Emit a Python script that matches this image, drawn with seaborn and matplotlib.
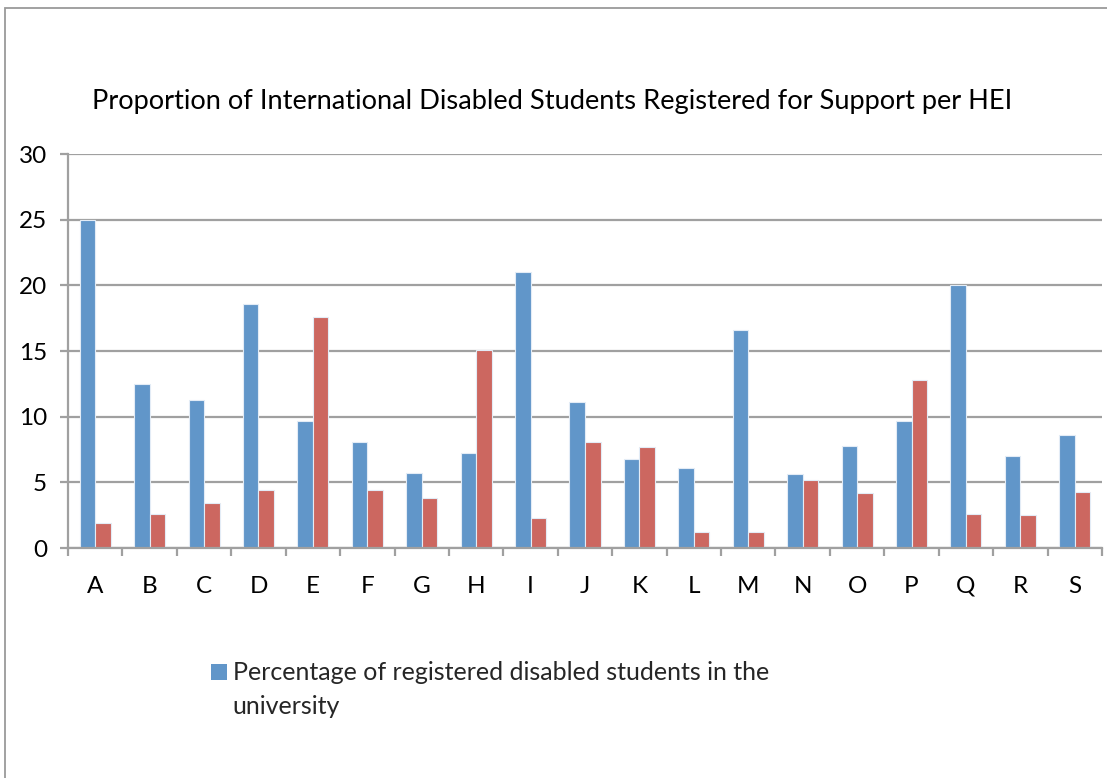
import matplotlib
matplotlib.use("Agg")
import matplotlib.pyplot as plt
import matplotlib.patches as mpatches
from matplotlib.legend_handler import HandlerPatch
import seaborn as sns
import pandas as pd

# Institutions (anonymised) and the two percentage series per institution
institutions = list("ABCDEFGHIJKLMNOPQRS")
registered_disabled = [25.0, 12.5, 11.3, 18.6, 9.7, 8.1, 5.7, 7.2, 21.0, 11.1,
                       6.8, 6.1, 16.6, 5.6, 7.8, 9.7, 20.0, 7.0, 8.6]
international_disabled = [1.9, 2.6, 3.4, 4.4, 17.6, 4.4, 3.8, 15.1, 2.3, 8.1,
                          7.7, 1.2, 1.2, 5.2, 4.2, 12.8, 2.6, 2.5, 4.3]
series_names = ["Percentage of registered disabled students in the\nuniversity",
                "Percentage of international disabled students registered for support"]
y_ticks = [0, 5, 10, 15, 20, 25, 30]
title = "Proportion of International Disabled Students Registered for Support per HEI"

df = pd.DataFrame({
    "HEI": institutions * 2,
    "value": registered_disabled + international_disabled,
    "series": [series_names[0]] * len(institutions) + [series_names[1]] * len(institutions),
})

sns.set_theme(style="white")
plt.rcParams["font.family"] = ["Lato", "DejaVu Sans"]

blue = "#6196C9"
red = "#CC6760"
grid_c = "#A0A0A0"
tick_fs = 17.5

fig = plt.figure(figsize=(11.07, 7.78), dpi=100)
ax = fig.add_axes([0.0614, 0.2956, 0.9341, 0.5064])

sns.barplot(data=df, x="HEI", y="value", hue="series", hue_order=series_names,
            palette=[blue, red], width=0.57, gap=0, ax=ax, legend=False,
            edgecolor="#E3ECF6", linewidth=0.8, saturation=1, errorbar=None)

ax.set_ylim(0, 30)
ax.set_xlim(-0.5, len(institutions) - 0.5)
ax.set_yticks(y_ticks)
ax.set_yticklabels([str(t) for t in y_ticks], fontsize=tick_fs)
ax.set_xticks(range(len(institutions)))
ax.set_xticklabels(institutions, fontsize=tick_fs)
ax.set_xlabel("")
ax.set_ylabel("")

ax.yaxis.grid(True, color=grid_c, linewidth=1.6)
ax.set_axisbelow(True)
for s in ["top", "right"]:
    ax.spines[s].set_visible(False)
for s in ["left", "bottom"]:
    ax.spines[s].set_color(grid_c)
    ax.spines[s].set_linewidth(1.6)

# category separator ticks below the x axis, short ticks left of the y axis
ax.set_xticks([i - 0.5 for i in range(len(institutions) + 1)], minor=True)
ax.tick_params(axis="x", which="major", length=0, pad=20, colors="black")
ax.tick_params(axis="x", which="minor", length=6, width=1.6, color=grid_c, bottom=True)
ax.tick_params(axis="y", length=6, width=1.6, color=grid_c, left=True, pad=9, colors="black")

fig.text(0.4985, 0.870, title, ha="center", va="center", fontsize=19.6, color="black")


def top_aligned_square(legend, orig_handle, xdescent, ydescent, width, height, fontsize):
    # square marker beside the first line of a two-line label
    side = 0.62 * fontsize
    return mpatches.Rectangle((-xdescent, -ydescent + height / 2 - side / 2 + 0.72 * fontsize),
                              side, side)


handle = mpatches.Patch(facecolor=blue, edgecolor="none")
fig.legend([handle], [series_names[0]], loc="upper left",
           bbox_to_anchor=(0.1816, 0.163), frameon=False, fontsize=18,
           handlelength=0.62, handleheight=0.62, handletextpad=0.25, borderaxespad=0,
           handler_map={mpatches.Patch: HandlerPatch(patch_func=top_aligned_square)})
for t in fig.legends[0].get_texts():
    t.set_linespacing(1.55)

# chart-area border
fig.add_artist(mpatches.Rectangle((5 / 1107, -0.1), 1.2, 1 - 8 / 778 + 0.1,
                                  transform=fig.transFigure, fill=False,
                                  edgecolor="#9A9A9A", linewidth=1.3))

fig.savefig("out.png", dpi=100)
